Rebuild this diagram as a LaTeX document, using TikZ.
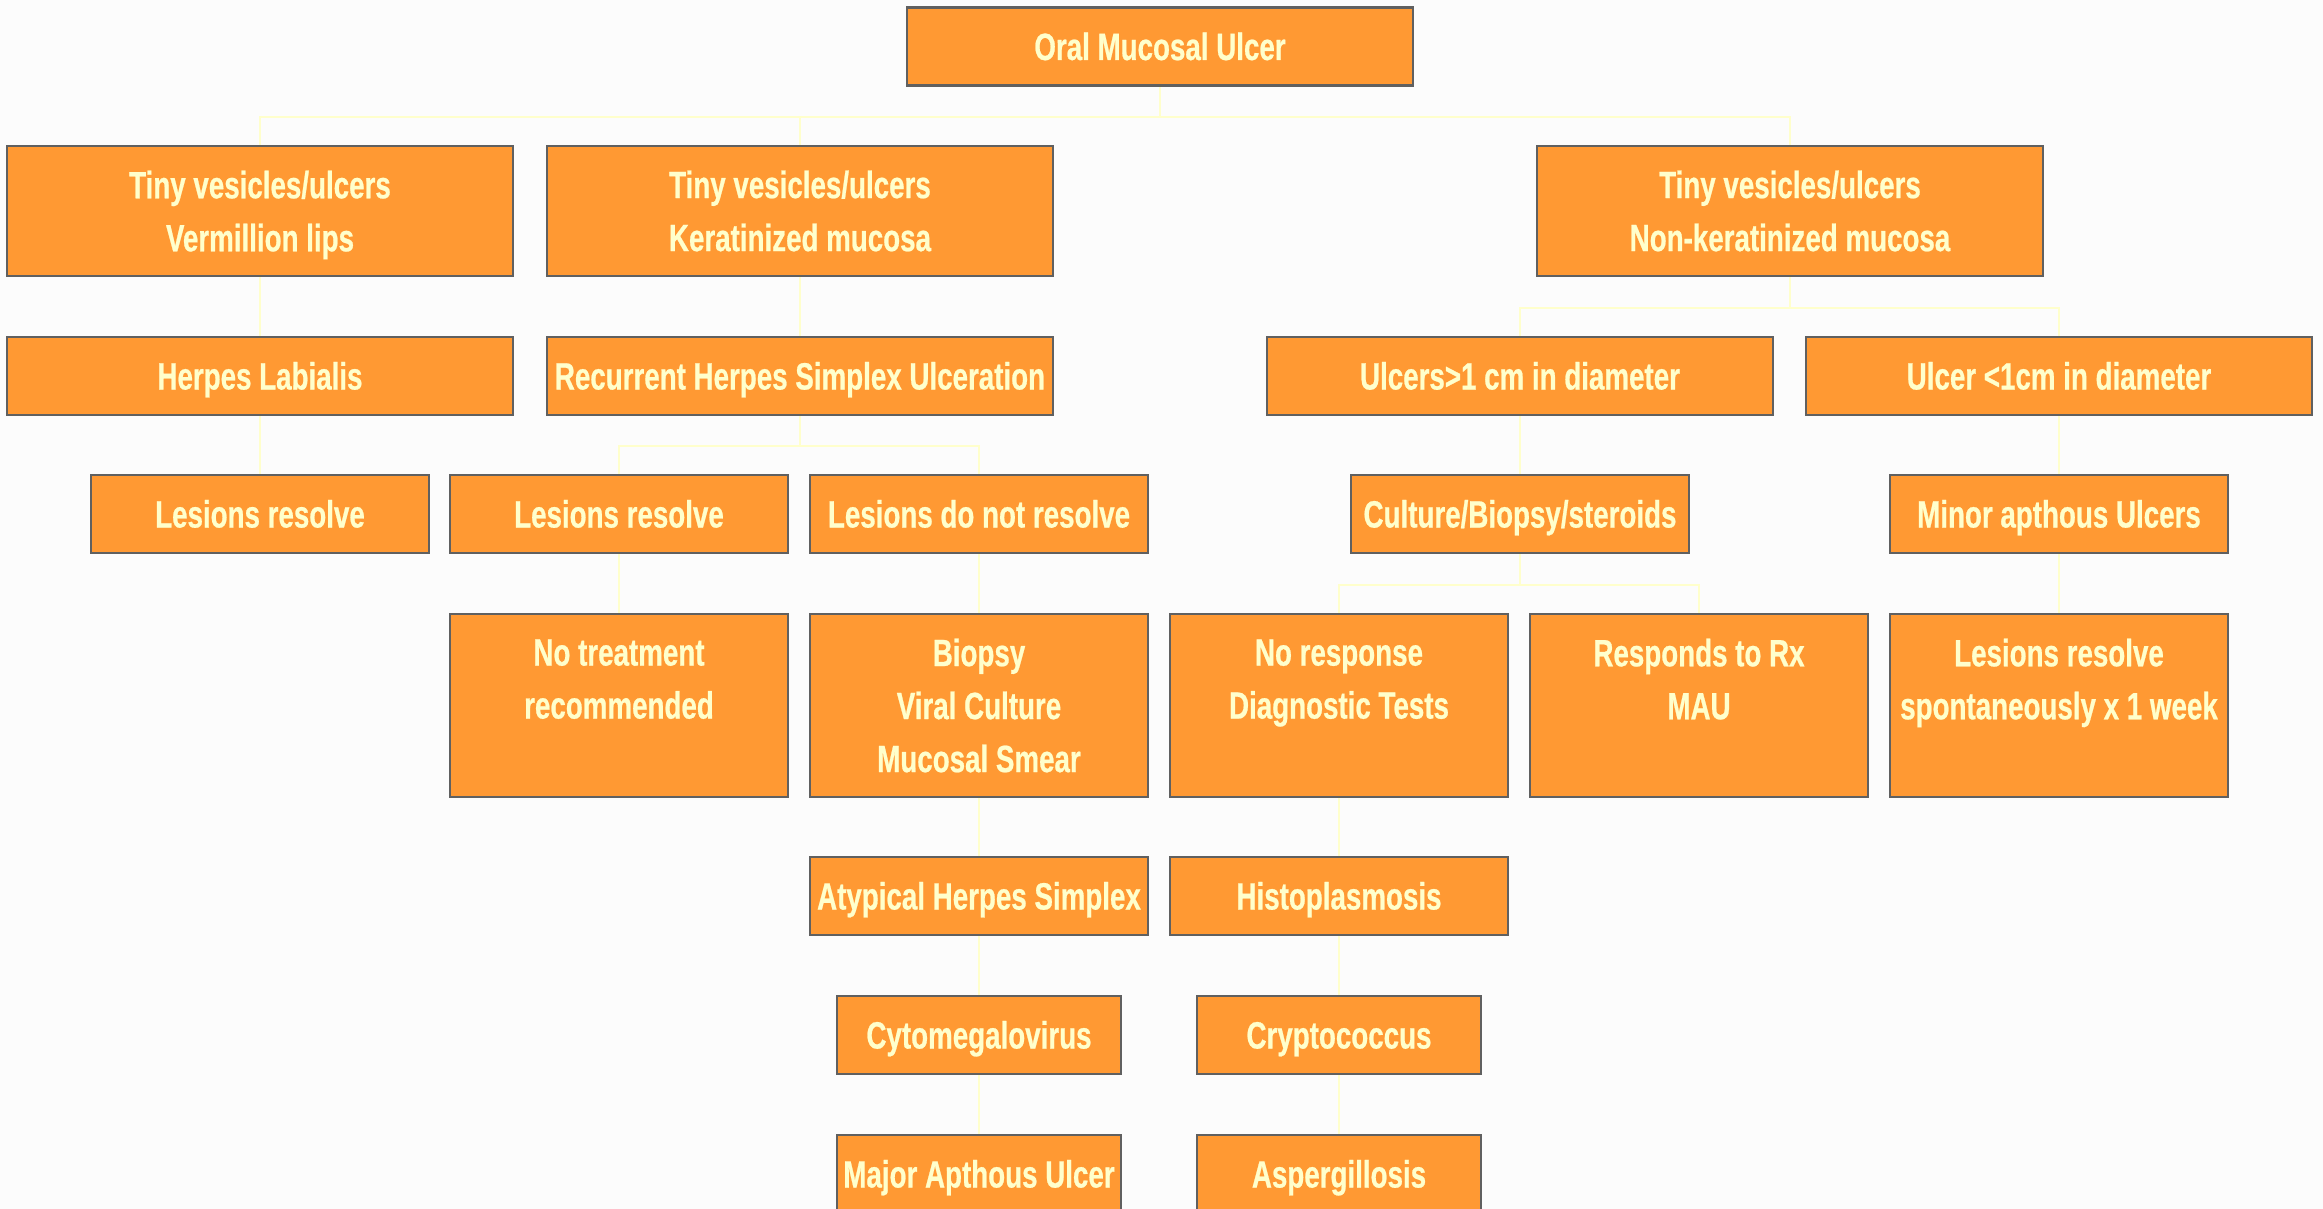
\documentclass[tikz,border=0pt]{standalone}
\usepackage{fontspec}
\newfontfamily\boxfont{Liberation Sans}[FakeStretch=0.73,FakeBold=0.6]
\usetikzlibrary{calc}
\definecolor{boxfill}{RGB}{255,153,51}
\definecolor{boxline}{RGB}{96,96,96}
\definecolor{boxtext}{RGB}{255,255,204}
\definecolor{linkcol}{RGB}{255,255,204}
\definecolor{bgcol}{RGB}{252,252,252}
\pgfdeclarelayer{bglayer}
\pgfsetlayers{bglayer,main}
\newcommand{\nodepth}[1]{\raisebox{0pt}[\height][0pt]{#1}}
\begin{document}
\begin{tikzpicture}[x=1pt,y=-1pt,
  box/.style={draw=boxline, line width=2.5pt, fill=boxfill, text=boxtext,
    inner sep=0pt, align=center, font=\boxfont\bfseries\fontsize{38}{53}\selectfont},
  bw/.style={minimum width=506pt},
  bm/.style={minimum width=338pt},
  bn/.style={minimum width=284pt},
  hone/.style={minimum height=78pt, text height=31pt, text depth=4pt},
  htwo/.style={minimum height=130pt},
  hthree/.style={minimum height=183pt},
  conn/.style={draw=linkcol, line width=2pt}]

\useasboundingbox (0,0) rectangle (2323,1209);

% level 0
\node[box,bw,hone] (root) at (1160,46.5) {Oral Mucosal Ulcer};
% level 1
\node[box,bw,htwo] (a1) at (260,211) {Tiny vesicles/ulcers\\\nodepth{Vermillion lips}};
\node[box,bw,htwo] (a2) at (800,211) {Tiny vesicles/ulcers\\Keratinized mucosa};
\node[box,bw,htwo] (a3) at (1790,211) {Tiny vesicles/ulcers\\Non-keratinized mucosa};
% level 2
\node[box,bw,hone] (b1) at (260,376) {Herpes Labialis};
\node[box,bw,hone] (b2) at (800,376) {Recurrent Herpes Simplex Ulceration};
\node[box,bw,hone] (b3) at (1520,376) {Ulcers>1 cm in diameter};
\node[box,bw,hone] (b4) at (2059,376) {Ulcer <1cm in diameter};
% level 3
\node[box,bm,hone] (c1) at (260,514) {Lesions resolve};
\node[box,bm,hone] (c2) at (619,514) {Lesions resolve};
\node[box,bm,hone] (c3) at (979,514) {Lesions do not resolve};
\node[box,bm,hone] (c4) at (1520,514) {Culture/Biopsy/steroids};
\node[box,bm,hone] (c5) at (2059,514) {Minor apthous Ulcers};
% level 4
\node[box,bm,hthree] (d1) at (619,705.5) {No treatment\\recommended\\\mbox{}};
\node[box,bm,hthree] (d2) at (979,705.5) {Biopsy\\Viral Culture\\Mucosal Smear};
\node[box,bm,hthree] (d3) at (1339,705.5) {No response\\Diagnostic Tests\\\mbox{}};
\node[box,bm,hthree] (d4) at (1699,705.5) {Responds to Rx\\MAU\\\mbox{}};
\node[box,bm,hthree] (d5) at (2059,705.5) {Lesions resolve\\spontaneously x 1 week\\\mbox{}};
% level 5
\node[box,bm,hone] (e1) at (979,896) {Atypical Herpes Simplex};
\node[box,bm,hone] (e2) at (1339,896) {Histoplasmosis};
% level 6
\node[box,bn,hone] (f1) at (979,1035) {Cytomegalovirus};
\node[box,bn,hone] (f2) at (1339,1035) {Cryptococcus};
% level 7
\node[box,bn,hone] (g1) at (979,1174) {Major Apthous Ulcer};
\node[box,bn,hone] (g2) at (1339,1174) {Aspergillosis};

\begin{pgfonlayer}{bglayer}
  \fill[bgcol] (0,0) rectangle (2323,1209);
  % root to level 1
  \draw[conn] (root.south) -- ++(0,30.5) coordinate (bus0);
  \draw[conn] (a1.north) |- (bus0) -| (a3.north);
  \draw[conn] (a2.north) -- (a2.north |- bus0);
  % level 1 to level 2
  \draw[conn] (a1.south) -- (b1.north);
  \draw[conn] (a2.south) -- (b2.north);
  \draw[conn] (a3.south) -- ++(0,30.5) coordinate (bus1);
  \draw[conn] (b3.north) |- (bus1) -| (b4.north);
  % level 2 to level 3
  \draw[conn] (b1.south) -- (c1.north);
  \draw[conn] (b2.south) -- ++(0,30) coordinate (bus2);
  \draw[conn] (c2.north) |- (bus2) -| (c3.north);
  \draw[conn] (b3.south) -- (c4.north);
  \draw[conn] (b4.south) -- (c5.north);
  % level 3 to level 4
  \draw[conn] (c2.south) -- (d1.north);
  \draw[conn] (c3.south) -- (d2.north);
  \draw[conn] (c4.south) -- ++(0,30.5) coordinate (bus3);
  \draw[conn] (d3.north) |- (bus3) -| (d4.north);
  \draw[conn] (c5.south) -- (d5.north);
  % chains
  \draw[conn] (d2.south) -- (e1.north);
  \draw[conn] (e1.south) -- (f1.north);
  \draw[conn] (f1.south) -- (g1.north);
  \draw[conn] (d3.south) -- (e2.north);
  \draw[conn] (e2.south) -- (f2.north);
  \draw[conn] (f2.south) -- (g2.north);
\end{pgfonlayer}
\end{tikzpicture}
\end{document}
